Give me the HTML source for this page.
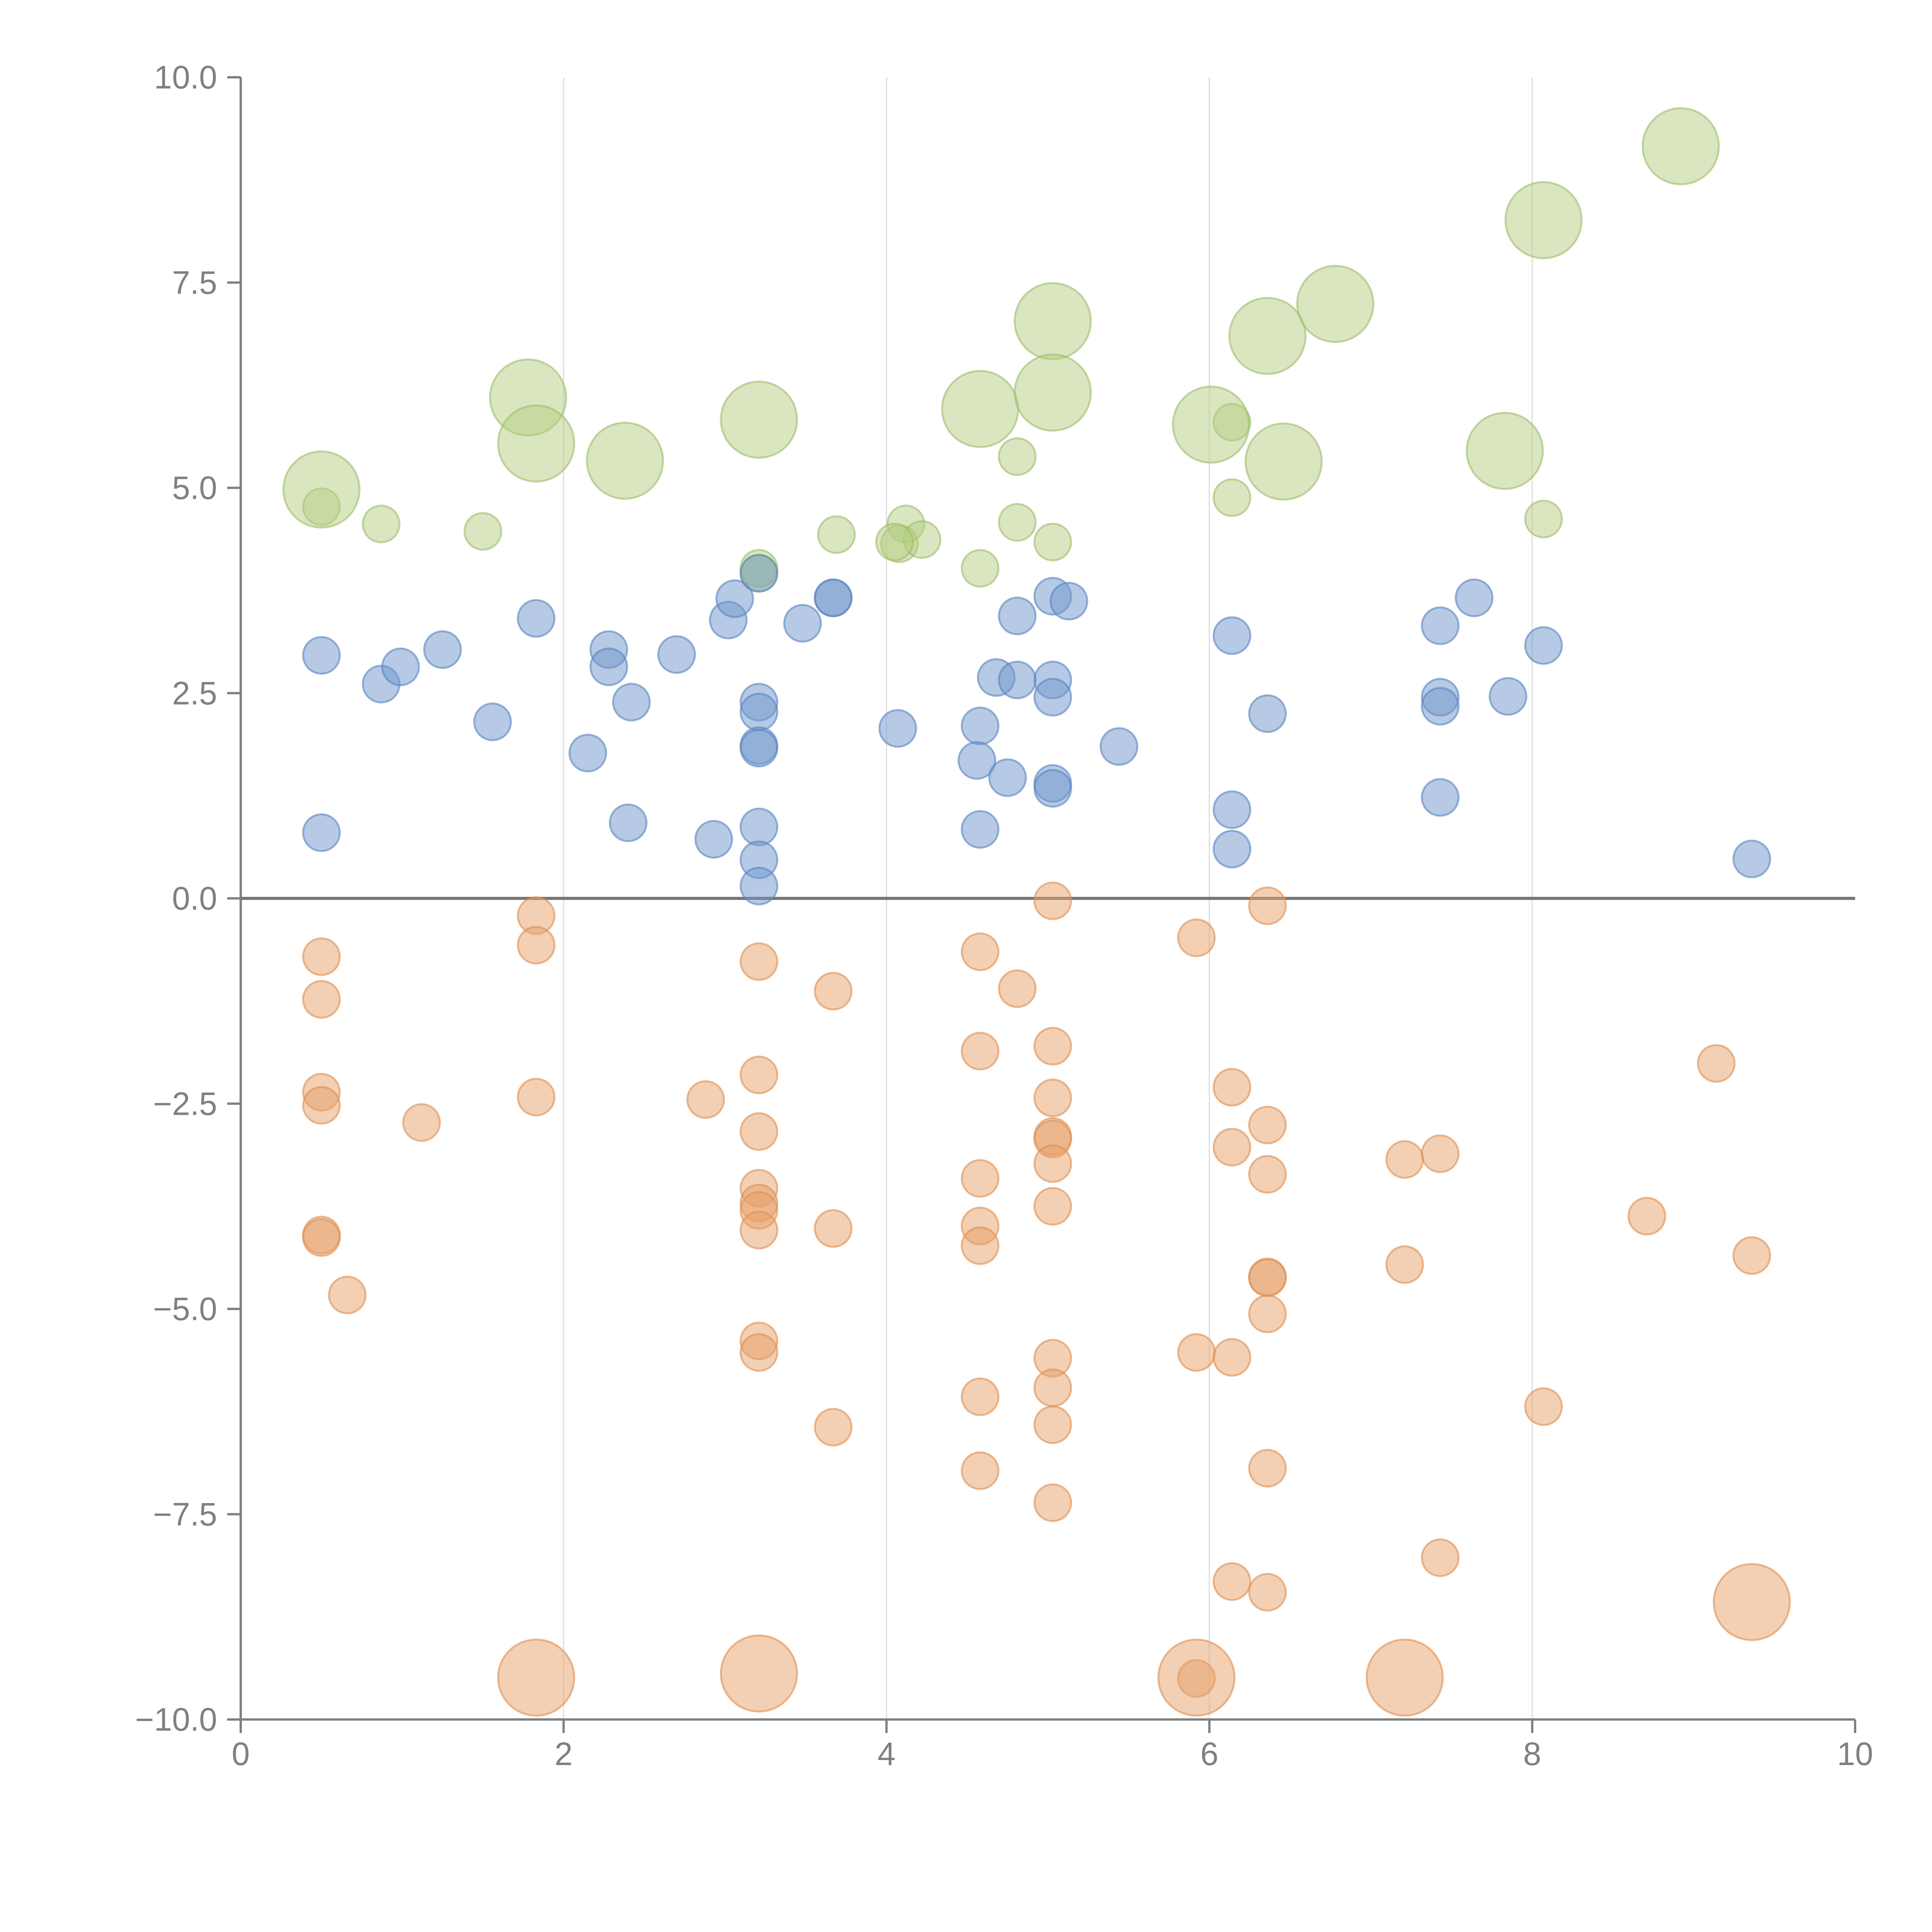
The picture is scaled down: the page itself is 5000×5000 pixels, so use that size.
<!DOCTYPE html>
<html><head><meta charset="utf-8"><style>
html,body{margin:0;padding:0;background:#fff;}
svg{display:block;font-family:"Liberation Sans",Arial,sans-serif;}
</style></head><body>
<svg id="chart" width="5000" height="5000" viewBox="0 0 5000 5000" xmlns="http://www.w3.org/2000/svg">
<g id="grid"></g>
<g id="axes"></g>
<g id="marks"></g>
</svg>
<script>
const xTicks=[0,2,4,6,8,10];
const yTicks=[-10,-7.5,-5,-2.5,0,2.5,5,7.5,10];
const yTickLabels=["\u221210.0","\u22127.5","\u22125.0","\u22122.5","0.0","2.5","5.0","7.5","10.0"];
const blueX=[0.50,0.87,0.99,1.25,1.56,1.83,2.15,2.28,2.28,2.42,2.40,2.70,2.93,3.02,3.06,3.21,3.21,3.21,3.21,3.21,3.21,3.21,3.21,3.48,3.67,3.67,4.07,0.50,4.58,4.56,4.58,4.68,4.75,4.81,4.81,5.03,5.13,5.03,5.03,5.03,5.03,5.44,6.14,6.14,6.14,6.36,7.43,7.43,7.43,7.43,7.64,7.85,8.07,9.36];
const blueY=[2.96,2.61,2.82,3.03,2.15,3.41,1.77,3.03,2.82,2.39,0.92,2.97,0.72,3.39,3.65,3.96,2.39,2.27,1.86,1.83,0.87,0.47,0.15,3.35,3.66,3.66,2.07,0.80,2.10,1.68,0.84,2.69,1.47,2.66,3.44,3.68,3.62,2.66,2.45,1.40,1.34,1.85,3.20,1.08,0.60,2.25,3.32,2.45,2.34,1.23,3.66,2.46,3.08,0.48];
const greenX=[0.50,0.87,1.50,3.21,3.69,4.12,4.08,4.22,4.05,4.58,4.81,4.81,5.03,6.14,6.14,8.07,3.21,
 0.50,1.78,1.83,2.38,3.21,4.58,5.03,5.03,6.01,6.36,6.46,6.78,7.83,8.07,8.92];
const greenY=[4.77,4.56,4.47,4.02,4.43,4.56,4.32,4.37,4.34,4.02,5.38,4.58,4.34,5.80,4.88,4.62,3.96,
 4.98,6.10,5.54,5.33,5.83,5.96,7.03,6.16,5.77,6.85,5.32,7.24,5.45,8.26,9.16];
const greenSize=[1,1,1,1,1,1,1,1,1,1,1,1,1,1,1,1,1,
 4.3,4.3,4.3,4.3,4.3,4.3,4.3,4.3,4.3,4.3,4.3,4.3,4.3,4.3,4.3];
const orangeX=[0.50,0.50,0.50,0.50,0.50,0.50,0.66,1.12,1.83,1.83,1.83,2.88,3.21,3.21,3.21,3.21,3.21,3.21,3.21,3.21,3.21,3.67,3.67,3.67,4.58,4.58,4.58,4.58,4.58,4.58,4.58,4.81,5.03,5.03,5.03,5.03,5.03,5.03,5.03,5.03,5.03,5.03,5.03,5.92,5.92,6.14,6.14,6.14,6.14,6.36,6.36,6.36,6.36,6.36,6.36,6.36,6.36,7.21,7.21,7.43,7.43,8.07,8.71,9.14,9.36,5.92,
 1.83,3.21,5.92,7.21,9.36];
const orangeY=[-0.71,-1.23,-2.36,-2.52,-4.10,-4.13,-4.83,-2.73,-0.21,-0.57,-2.42,-2.45,-0.77,-2.15,-2.84,-3.53,-3.71,-3.80,-4.04,-5.39,-5.53,-1.13,-4.02,-6.44,-0.65,-1.86,-3.41,-3.99,-4.23,-6.07,-6.97,-1.10,-0.03,-1.80,-2.43,-2.90,-2.93,-3.23,-3.75,-5.60,-5.96,-6.41,-7.36,-0.48,-5.53,-2.30,-3.03,-5.59,-8.32,-0.09,-2.76,-3.36,-4.61,-4.62,-5.06,-6.94,-8.45,-3.18,-4.46,-3.11,-8.03,-6.19,-3.87,-2.01,-4.35,-9.50,
 -9.49,-9.44,-9.49,-9.49,-8.57];
const orangeSize=orangeX.map((_,i)=>i<66?1:4.3);

const NS="http://www.w3.org/2000/svg";
const X0=623,X1=4801,Y0=4450,Y1=200;
const xs=v=>X0+(v-0)/(10-0)*(X1-X0);
const ys=v=>Y0+(v-(-10))/(20)*(Y1-Y0);
const rs=s=>47.5*Math.sqrt(s);
function mk(tag,attrs,parent){const e=document.createElementNS(NS,tag);for(const k in attrs)e.setAttribute(k,attrs[k]);parent.appendChild(e);return e;}
const grid=document.getElementById('grid'),axes=document.getElementById('axes'),marks=document.getElementById('marks');
xTicks.forEach(t=>{
  if(t>0&&t<10){const l=mk('line',{x1:xs(t),x2:xs(t),y1:Y1,y2:Y0,stroke:'#dcdcdc','stroke-width':3},grid);
  
  }
  const tk=mk('line',{x1:xs(t),x2:xs(t),y1:Y0,y2:Y0+35,stroke:'#808080','stroke-width':6},axes);
  
  
  const tx=mk('text',{x:xs(t),y:Y0+118,'text-anchor':'middle','font-size':84,fill:'#808080'},axes);
  tx.textContent=t;
  
  
});
yTicks.forEach((t,i)=>{
  const tk=mk('line',{x1:X0-35,x2:X0,y1:ys(t),y2:ys(t),stroke:'#808080','stroke-width':6},axes);
  
  
  const tx=mk('text',{x:X0-61,y:ys(t)+29,'text-anchor':'end','font-size':84,fill:'#808080'},axes);
  tx.textContent=yTickLabels[i];
  
  
});
const ya=mk('line',{x1:X0,x2:X0,y1:Y1,y2:Y0,stroke:'#808080','stroke-width':6},axes);


const xa=mk('line',{x1:X0,x2:X1,y1:Y0,y2:Y0,stroke:'#808080','stroke-width':6},axes);


function series(xa_,ya_,sz,fill,stroke,name){
  xa_.forEach((v,i)=>{
    const c=mk('circle',{cx:xs(v),cy:ys(ya_[i]),r:rs(sz?sz[i]:1),fill:fill,'fill-opacity':0.5,stroke:stroke,'stroke-opacity':0.6,'stroke-width':5},marks);
    
    
  });
}
series(greenX,greenY,greenSize,'#b3cd82','#9fbd6a','green-bubble');
series(blueX,blueY,null,'#6e95cc','#5a84c0','blue-bubble');
series(orangeX,orangeY,orangeSize,'#e8a068','#dd8f52','orange-bubble');
const zl=mk('line',{x1:X0,x2:X1,y1:ys(0),y2:ys(0),stroke:'#777','stroke-width':8},axes);


</script>
</body></html>
